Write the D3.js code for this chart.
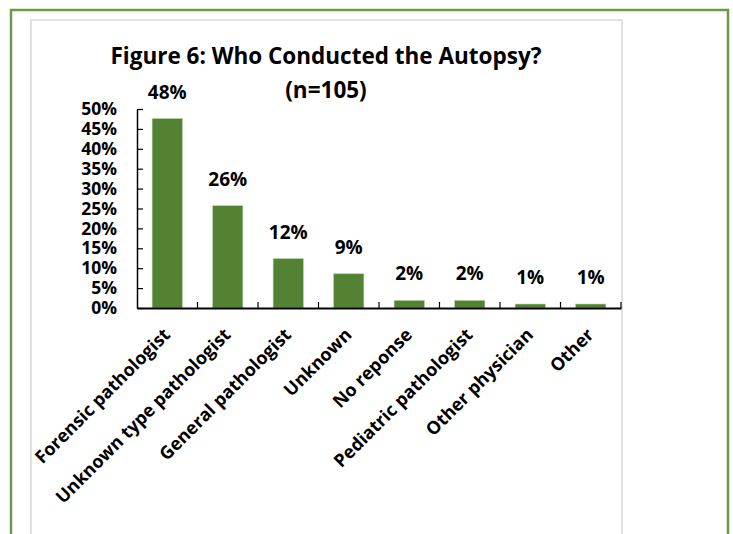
<!DOCTYPE html>
<html lang="en">
<head>
<meta charset="utf-8">
<title>Who Conducted the Autopsy</title>
<script src="https://cdn.jsdelivr.net/npm/d3@7"></script>
<style>
  body { margin: 0; background: #fff; }
  text { font-family: "Open Sans", sans-serif; font-weight: bold; fill: #000; }
</style>
</head>
<body>
<script>
// data
let categories = ["Forensic pathologist", "Unknown type pathologist", "General pathologist",
  "Unknown", "No reponse", "Pediatric pathologist", "Other physician", "Other"];
let values = [47.6, 25.7, 12.4, 8.6, 1.9, 1.9, 1.0, 1.0];
let valueLabels = ["48%", "26%", "12%", "9%", "2%", "2%", "1%", "1%"];
let yTicks = [0, 5, 10, 15, 20, 25, 30, 35, 40, 45, 50];
let titleLines = ["Figure 6: Who Conducted the Autopsy?", "(n=105)"];

let w = 733;
let h = 534;
let plotLeft = 137, plotRight = 621, plotTop = 109, plotBottom = 308;

let svg = d3.select("body")
  .append("svg")
  .attr("width", w)
  .attr("height", h);

// outer green frame and grey chart box
svg.append("rect")
  .attr("x", 11).attr("y", 10)
  .attr("width", 717).attr("height", 540)
  .attr("fill", "none")
  .attr("stroke", "#6a9a46")
  .attr("stroke-width", 2.5);

svg.append("rect")
  .attr("x", 31).attr("y", 20)
  .attr("width", 591).attr("height", 530)
  .attr("fill", "#fff")
  .attr("stroke", "#d9d9d9")
  .attr("stroke-width", 1.5);

let xScale = d3.scaleBand()
  .domain(categories)
  .range([plotLeft, plotRight])
  .paddingInner(0.5)
  .paddingOuter(0.25);

let yScale = d3.scaleLinear()
  .domain([0, 50])
  .range([plotBottom, plotTop]);

// title
svg.selectAll(".title")
  .data(titleLines)
  .enter()
  .append("text")
  .attr("class", "title")
  .attr("x", 326)
  .attr("y", (d, i) => 64 + i * 34)
  .attr("text-anchor", "middle")
  .style("font-size", "22.5px")
  .text((d) => d);

// bars
svg.selectAll(".bar")
  .data(values)
  .enter()
  .append("rect")
  .attr("class", "bar")
  .attr("x", (d, i) => xScale(categories[i]))
  .attr("y", (d) => yScale(d))
  .attr("width", xScale.bandwidth())
  .attr("height", (d) => yScale(0) - yScale(d))
  .attr("fill", "#548235")
  .attr("stroke", "#b5cfa2")
  .attr("stroke-width", 0.6);

// value labels
svg.selectAll(".vlabel")
  .data(values)
  .enter()
  .append("text")
  .attr("class", "vlabel")
  .attr("x", (d, i) => xScale(categories[i]) + xScale.bandwidth() / 2)
  .attr("y", (d) => yScale(d) - 20)
  .attr("text-anchor", "middle")
  .style("font-size", "19px")
  .text((d, i) => valueLabels[i]);

// y axis, ticks point inward
let yAxis = d3.axisLeft(yScale)
  .tickValues(yTicks)
  .tickFormat((d) => d + "%")
  .tickSizeInner(-6)
  .tickSizeOuter(0)
  .tickPadding(20);

let gy = svg.append("g")
  .attr("transform", "translate(" + plotLeft + ",0)")
  .call(yAxis);
gy.select(".domain").attr("stroke", "#000").attr("stroke-width", 1.5);
gy.selectAll(".tick line").attr("stroke", "#000").attr("stroke-width", 1.2);
gy.selectAll("text")
  .style("font-size", "17.5px")
  .style("font-family", "'Open Sans', sans-serif")
  .style("font-weight", "bold")
  .attr("fill", "#000");

// x axis with rotated labels
let xAxis = d3.axisBottom(xScale)
  .tickSize(0)
  .tickPadding(0);

let gx = svg.append("g")
  .attr("transform", "translate(0," + plotBottom + ")")
  .call(xAxis);
gx.select(".domain").attr("stroke", "#000").attr("stroke-width", 2);
gx.selectAll("text")
  .attr("x", 0)
  .attr("y", 0)
  .attr("dy", 0)
  .attr("text-anchor", "end")
  .attr("transform", "translate(4,28) rotate(-45)")
  .style("font-size", "18px")
  .style("font-family", "'Open Sans', sans-serif")
  .style("font-weight", "bold")
  .attr("fill", "#000");

// category boundary ticks on the x axis (pointing up)
let step = xScale.step();
svg.selectAll(".xtick")
  .data(categories)
  .enter()
  .append("line")
  .attr("class", "xtick")
  .attr("x1", (d) => xScale(d) + xScale.bandwidth() + (step - xScale.bandwidth()) / 2)
  .attr("x2", (d) => xScale(d) + xScale.bandwidth() + (step - xScale.bandwidth()) / 2)
  .attr("y1", plotBottom)
  .attr("y2", plotBottom - 6)
  .attr("stroke", "#000")
  .attr("stroke-width", 1.2);
</script>
</body>
</html>
